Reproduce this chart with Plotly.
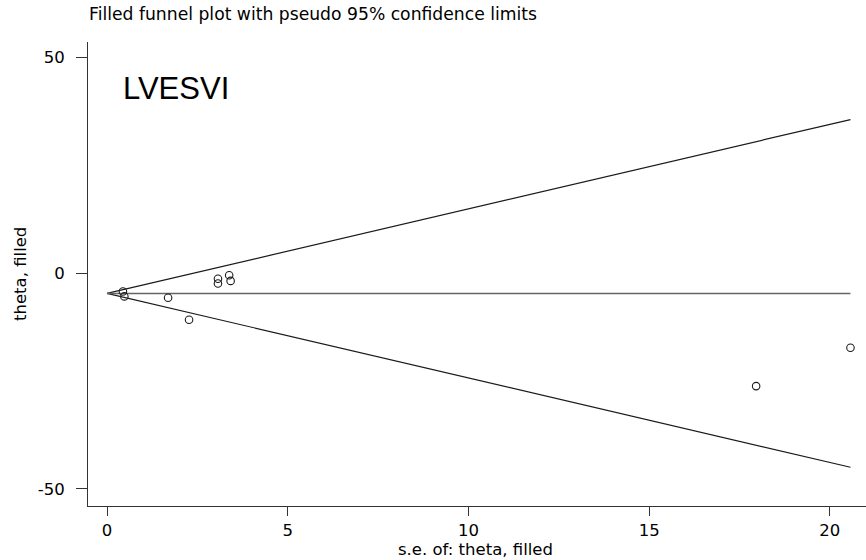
import plotly.graph_objects as go

# Study estimates and their standard errors
se = [0.44, 0.48, 1.69, 2.27, 3.07, 3.07, 3.38, 3.42, 17.96, 20.57]
theta = [-4.25, -5.4, -5.7, -10.8, -1.3, -2.4, -0.5, -1.8, -26.2, -17.3]

# Pooled (fixed-effect) estimate after filling
pooled = -4.7
z95 = 1.96

x_ticks = [0, 5, 10, 15, 20]
y_ticks = [-50, 0, 50]

se_max = max(se)
se_line = [0, se_max]
upper = [pooled + z95 * s for s in se_line]
lower = [pooled - z95 * s for s in se_line]

fig = go.Figure()

# Pseudo 95% confidence limits
fig.add_trace(go.Scatter(x=se_line, y=upper, mode="lines",
                         line=dict(color="#1a1a1a", width=1.2), hoverinfo="skip"))
fig.add_trace(go.Scatter(x=se_line, y=lower, mode="lines",
                         line=dict(color="#1a1a1a", width=1.2), hoverinfo="skip"))
# Pooled estimate line
fig.add_trace(go.Scatter(x=se_line, y=[pooled, pooled], mode="lines",
                         line=dict(color="#666666", width=1.5), hoverinfo="skip"))
# Studies
fig.add_trace(go.Scatter(x=se, y=theta, mode="markers",
                         marker=dict(symbol="circle-open", size=7.5,
                                     color="#1a1a1a", line=dict(width=1.1))))

text_font = "DejaVu Sans, Verdana, sans-serif"
label_font = "Liberation Sans, Arial, sans-serif"

fig.update_layout(
    width=866, height=560,
    margin=dict(l=88, r=0, t=42, b=54),
    paper_bgcolor="white", plot_bgcolor="white",
    showlegend=False,
    font=dict(family=text_font, color="black", size=16.5),
    xaxis=dict(range=[-0.526, 21.0], tickvals=x_ticks,
               ticktext=[str(v) for v in x_ticks], ticks="outside",
               ticklen=9, tickcolor="#333333", showline=True, linecolor="#333333",
               linewidth=1, showgrid=False, zeroline=False,
               tickfont=dict(size=16.5)),
    yaxis=dict(range=[-54.0, 53.6], tickvals=y_ticks,
               ticktext=[str(v) for v in y_ticks], ticks="outside",
               ticklen=11, tickcolor="#333333", showline=True, linecolor="#333333",
               linewidth=1, showgrid=False, zeroline=False,
               tickfont=dict(size=16.5), ticklabelstandoff=8),
    annotations=[
        dict(text="Filled funnel plot with pseudo 95% confidence limits",
             xref="paper", yref="paper", x=0, y=1, xshift=-1, yshift=28,
             xanchor="left", yanchor="middle", showarrow=False,
             font=dict(size=17.2)),
        dict(text="LVESVI", xref="paper", yref="paper", x=0, y=1,
             xshift=33, yshift=-46, xanchor="left", yanchor="middle",
             showarrow=False, font=dict(family=label_font, size=31)),
        dict(text="s.e. of: theta, filled", xref="paper", yref="paper",
             x=0.4985, y=0, yshift=-43, xanchor="center", yanchor="middle",
             showarrow=False, font=dict(size=16.5)),
        dict(text="theta, filled", xref="paper", yref="paper",
             x=0, y=0.5, xshift=-68, xanchor="center", yanchor="middle",
             textangle=-90, showarrow=False, font=dict(size=16.5)),
    ],
)

fig.write_html("out.html")
